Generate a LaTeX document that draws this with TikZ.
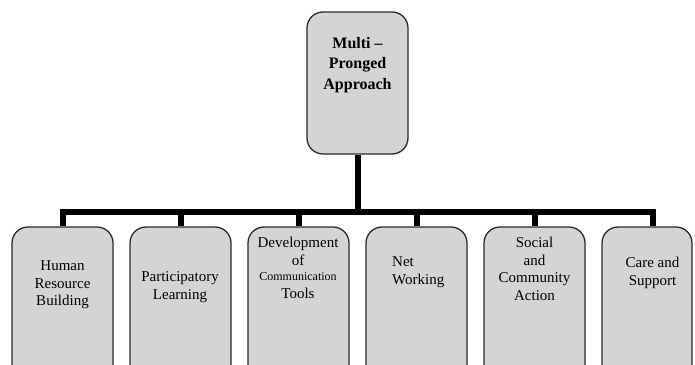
\documentclass[tikz,border=0pt]{standalone}
\usepackage{fontspec}
\setmainfont{Liberation Serif}
\definecolor{boxfill}{HTML}{D4D4D4}
\definecolor{boxline}{HTML}{2A2A2A}
\begin{document}
\begin{tikzpicture}[x=1pt,y=-1pt,
  box/.style={draw=boxline, line width=1.3pt, fill=boxfill, rounded corners=16pt,
              minimum width=101pt, inner sep=0pt},
  toptext/.style={align=center, font=\fontsize{16}{20.5}\selectfont\bfseries, inner sep=0pt},
  label/.style={align=center, font=\fontsize{15}{17.5}\selectfont, inner sep=0pt},
  conn/.style={line width=6pt, line join=miter, draw=black}]
  \useasboundingbox (0,0) rectangle (695,364);
  \clip (0,0) rectangle (695,364);

  % top box
  \node[box, minimum height=142pt] (top) at (357.5,83) {};
  \node[toptext] (toplbl) at (357.5,65) {Multi --\\Pronged\\Approach};

  % bottom row of boxes (they run past the lower edge)
  \foreach \i/\x in {1/62.5,2/180.5,3/298.5,4/416.5,5/534.5}
    \node[box, minimum height=170pt] (b\i) at (\x,312) {};
  \node[box, minimum height=170pt, minimum width=90pt] (b6) at (647,312) {};

  % labels
  \node[label] (l1) at (62.5,285) {Human\\Resource\\Building};
  \node[label] (l2) at (180,287) {Participatory\\Learning};
  \node[label] (l3) at (298,268) {Development\\of\\[-2pt]{\fontsize{12}{14}\selectfont Communication}\\Tools};
  \node[label, align=left, anchor=west] (l4) at (392,272) {Net\\Working};
  \node[label] (l5) at (534.5,269) {Social\\and\\Community\\Action};
  \node[label] (l6) at (652.5,273) {Care and\\Support};

  % connectors
  \coordinate (bus) at (0,212);
  \coordinate (s6) at ([xshift=6pt]b6.north);
  \draw[conn] (top.south) -- (top.south |- bus);
  \draw[conn] (b1.north) -- (b1.north |- bus) -- (s6 |- bus) -- (s6);
  \foreach \i in {2,3,4,5}
    \draw[conn] (b\i.north |- bus) -- (b\i.north);
\end{tikzpicture}
\end{document}
